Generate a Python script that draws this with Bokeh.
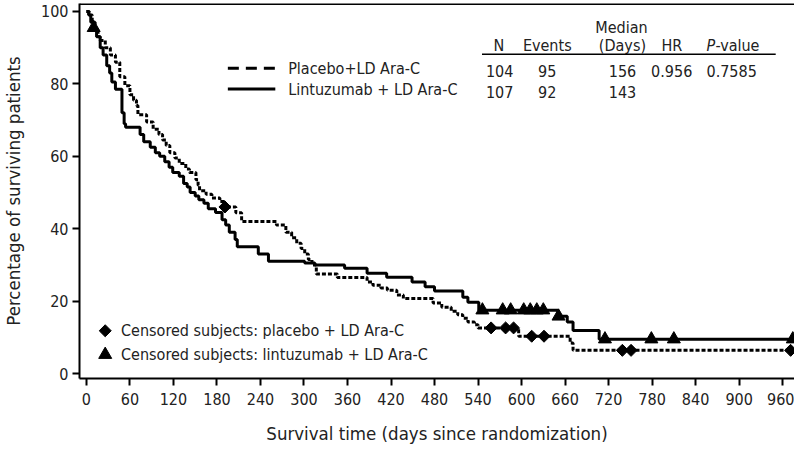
import numpy as np
from bokeh.plotting import figure
from bokeh.models import FixedTicker, Span, Range1d
from bokeh.core.properties import value
from bokeh.embed import file_html
from bokeh.resources import INLINE

# ---------------- data ----------------
# Lintuzumab + LD Ara-C (solid): step times (days) and survival level (%) after each step
lin_t = [0, 3, 6, 10, 14, 19, 23, 28, 32, 35, 40, 49, 52, 54, 74, 79, 88, 95, 101, 108,
         114, 119, 128, 134, 139, 143, 150, 155, 162, 168, 178, 187, 192, 197, 205, 208,
         237, 251, 301, 315, 356, 387, 414, 449, 467, 480, 519, 526, 541, 650, 663, 671,
         707, 975]
lin_s = [100, 99, 97, 95.5, 93, 90, 88, 85, 83, 80.5, 78.5, 72, 69, 68, 66, 64, 62.5, 61,
         60, 58.5, 57, 55.5, 54.5, 52.5, 51.5, 50, 49, 48, 47, 45.5, 44.5, 42.5, 41, 39,
         37, 35, 33, 31, 30.5, 30, 29.1, 27.7, 26.6, 25.3, 24, 22.8, 21.1, 19.7, 17.5,
         15.8, 14.2, 11.9, 9.5, 9.5]
lin_cens_t = [10, 546, 574, 585, 603, 612, 621, 630, 651, 715, 779, 810, 974]

# Placebo + LD Ara-C (dashed)
pla_t = [0, 4, 8, 12, 16, 19, 26, 33, 40, 46, 53, 60, 65, 69, 71, 83, 92, 100, 105, 110,
         115, 122, 128, 137, 142, 151, 154, 156, 165, 173, 184, 190, 206, 214, 262, 275,
         283, 290, 296, 301, 306, 311, 317, 346, 387, 395, 406, 415, 428, 437, 478, 490,
         503, 512, 519, 526, 535, 540, 596, 667, 671, 975]
pla_s = [100, 99, 97, 95, 93, 92, 90, 88, 86, 82, 79.5, 77, 75.5, 74, 71.5, 69.5, 67.5, 66,
         64.5, 63, 61, 59.5, 58, 56.5, 55.5, 53.5, 52, 50.5, 49.5, 48.5, 47.5, 46, 44.4,
         42, 41, 39, 37.5, 36, 34.5, 33, 31.5, 30, 27.5, 26.5, 25.3, 24.4, 23.6, 23,
         21.7, 20.7, 19.5, 18.3, 17.2, 16.2, 15.3, 14.2, 13.5, 12.6, 10.3, 8.4, 6.4, 6.4]
pla_cens_t = [191, 558, 578, 589, 614, 631, 739, 751, 971]

x_ticks = list(range(0, 961, 60))
y_ticks = [0, 20, 40, 60, 80, 100]

series_names = ["Placebo+LD Ara-C", "Lintuzumab + LD Ara-C"]
censor_names = ["Censored subjects: placebo + LD Ara-C",
                "Censored subjects: lintuzumab + LD Ara-C"]

tbl_header_top = "Median"
tbl_cols = ["N", "Events", "(Days)", "HR"]
tbl_pval_head = ("P", "-value")
tbl_rows = [["104", "95", "156", "0.956", "0.7585"],
            ["107", "92", "143", "", ""]]

x_title = "Survival time (days since randomization)"
y_title = "Percentage of surviving patients"

FONT = "'DejaVu Sans Condensed', 'Liberation Sans'"
FS = "16px"
FS_TITLE = "18.5px"

# ---------------- helpers: page pixel -> data coordinate (for annotations) ----------------
PX0, PXD = 86.0, 704.0 / 960.0      # day 0 at page x 86, px per day
PY0, PYU = 383.0, 3.64               # 0% at page y 383, px per %
def X(px):
    return (px - PX0) / PXD
def Y(py):
    return (PY0 - py) / PYU

def level_at(ts, ss, q):
    idx = np.searchsorted(np.asarray(ts), np.asarray(q), side="right") - 1
    return list(np.asarray(ss)[idx])

p = figure(width=794, height=446, output_backend="svg", toolbar_location=None,
           x_range=Range1d(X(79), X(802)), y_range=Range1d(Y(388), Y(11)),
           min_border_left=71, min_border_right=0, min_border_top=3, min_border_bottom=66)
p.background_fill_color = "white"
p.border_fill_color = "white"
p.outline_line_color = None
p.xgrid.visible = False
p.ygrid.visible = False

for ax in (p.xaxis[0], p.yaxis[0]):
    ax.axis_line_width = 2
    ax.axis_line_color = "black"
    ax.major_tick_line_width = 2
    ax.major_tick_line_color = "black"
    ax.major_tick_in = 0
    ax.major_tick_out = 7
    ax.minor_tick_line_color = None
    ax.major_label_text_font = FONT
    ax.major_label_text_font_size = FS
    ax.major_label_text_color = "#222222"
    ax.axis_label_text_font = FONT
    ax.axis_label_text_font_size = FS_TITLE
    ax.axis_label_text_font_style = "normal"
    ax.axis_label_text_color = "#222222"

p.xaxis.ticker = FixedTicker(ticks=x_ticks)
p.yaxis.ticker = FixedTicker(ticks=y_ticks)
p.xaxis.axis_label = x_title
p.yaxis.axis_label = y_title
p.xaxis.major_label_standoff = 7
p.yaxis.major_label_standoff = 4
p.xaxis.axis_label_standoff = 15
p.yaxis.axis_label_standoff = 14

# top border
p.add_layout(Span(location=Y(11.5), dimension="width", line_color="black", line_width=2))

# curves
p.step(pla_t, pla_s, mode="after", line_color="black", line_width=3, line_dash="4 2")
p.step(lin_t, lin_s, mode="after", line_color="black", line_width=3)

# censored marks
p.scatter(pla_cens_t, level_at(pla_t, pla_s, pla_cens_t), marker="square", angle=np.pi / 4,
          size=8.5, fill_color="black", line_color="black")
p.scatter(lin_cens_t, level_at(lin_t, lin_s, lin_cens_t), marker="triangle",
          size=13, fill_color="black", line_color="black")

# top legend
p.line([X(229), X(277)], [Y(76), Y(76)], line_color="black", line_width=3, line_dash="11 7")
p.line([X(229), X(277)], [Y(97), Y(97)], line_color="black", line_width=3)
p.text([X(290), X(290)], [Y(76), Y(97)], text=series_names, text_font=value(FONT),
       text_font_size=value(FS), text_baseline="middle", text_align="left",
       text_color="#222222")

# bottom legend
p.scatter([X(105)], [Y(340)], marker="square", angle=np.pi / 4, size=8.5, color="black")
p.scatter([X(105)], [Y(364)], marker="triangle", size=13, color="black")
p.text([X(121), X(121)], [Y(340), Y(364)], text=censor_names, text_font=value(FONT),
       text_font_size=value(FS), text_baseline="middle", text_align="left",
       text_color="#222222")

# table
tf = dict(text_font=value(FONT), text_font_size=value(FS), text_baseline="middle",
          text_color="#222222")
p.text([X(627)], [Y(35)], text=[tbl_header_top], text_align="center", **tf)
p.text([X(503), X(552), X(628), X(678)], [Y(53)] * 4, text=tbl_cols, text_align="center", **tf)
p.text([X(713)], [Y(53)], text=[tbl_pval_head[0]], text_align="left",
       text_font_style="italic", **tf)
p.text([X(722)], [Y(53)], text=[tbl_pval_head[1]], text_align="left", **tf)
p.line([X(486), X(783)], [Y(62), Y(62)], line_color="black", line_width=1.5)
for r, yy in zip(tbl_rows, [Y(79), Y(100)]):
    p.text([X(490)], [yy], text=[r[0]], text_align="left", **tf)
    p.text([X(552)], [yy], text=[r[1]], text_align="center", **tf)
    p.text([X(642)], [yy], text=[r[2]], text_align="right", **tf)
    if r[3]:
        p.text([X(657)], [yy], text=[r[3]], text_align="left", **tf)
    if r[4]:
        p.text([X(713)], [yy], text=[r[4]], text_align="left", **tf)

open("out.html", "w").write(file_html(p, INLINE))
